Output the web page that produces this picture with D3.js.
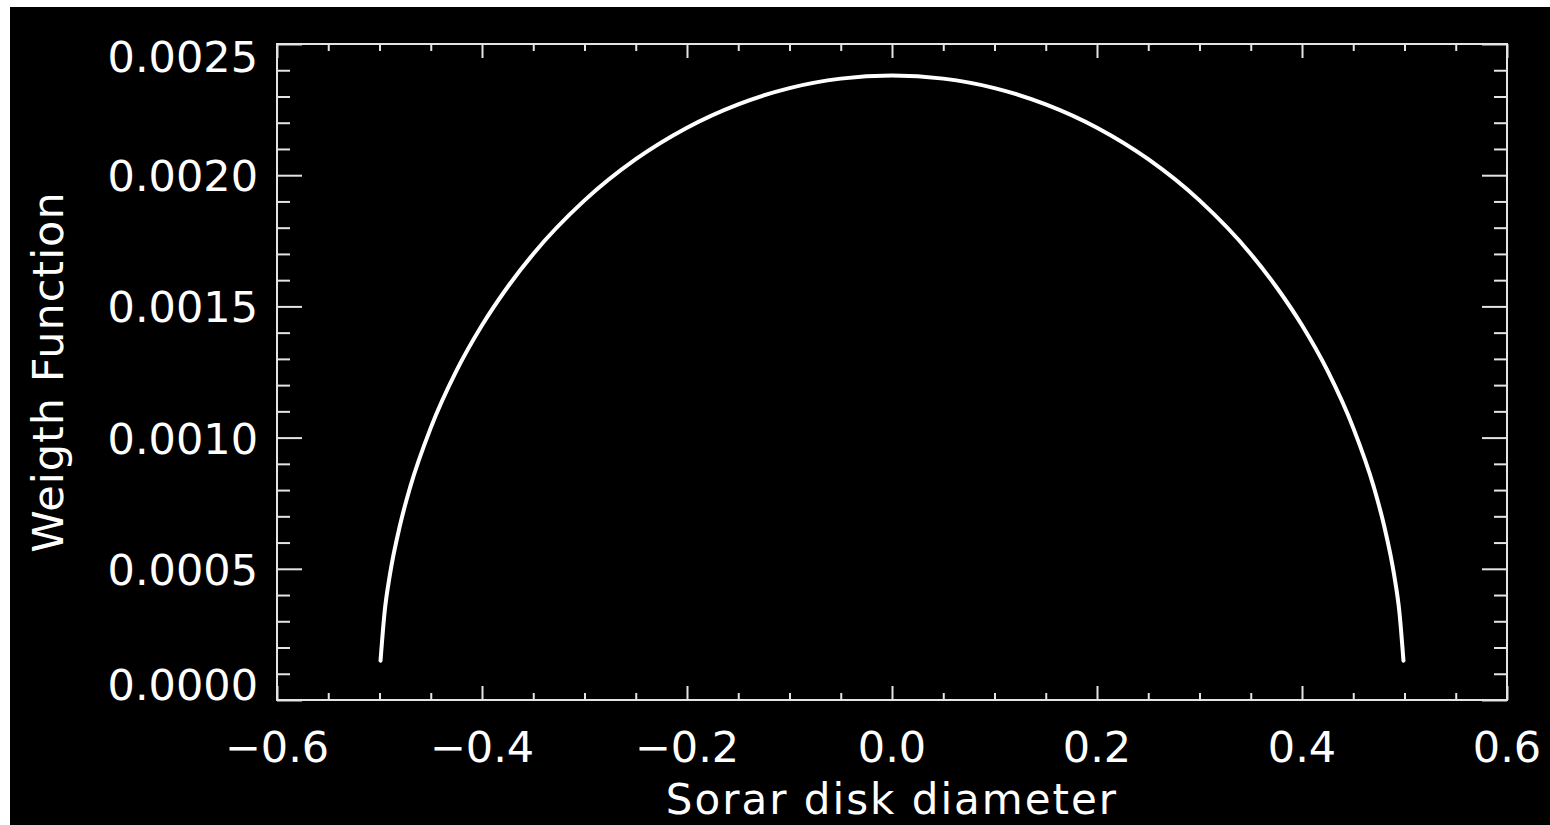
<!DOCTYPE html>
<html>
<head>
<meta charset="utf-8">
<script src="https://cdn.jsdelivr.net/npm/d3@7"></script>
<style>
  html, body { margin: 0; padding: 0; background: #ffffff; }
  svg { display: block; }
</style>
</head>
<body>
<svg id="chart" width="1550" height="825"></svg>
<script>
// ---- data ----
const diameter = [-0.499, -0.495, -0.49, -0.48, -0.47, -0.45, -0.425, -0.4, -0.375, -0.35,
                  -0.3, -0.25, -0.2, -0.15, -0.1, -0.05, 0.0,
                  0.05, 0.1, 0.15, 0.2, 0.25, 0.3, 0.35, 0.375, 0.4, 0.425,
                  0.45, 0.47, 0.48, 0.49, 0.495, 0.499];
const weight = [0.000150, 0.000336, 0.000474, 0.000666, 0.000812, 0.001037, 0.001254, 0.001428, 0.001574, 0.001700,
                0.001904, 0.002061, 0.002181, 0.002270, 0.002332, 0.002368, 0.002380,
                0.002368, 0.002332, 0.002270, 0.002181, 0.002061, 0.001904, 0.001700, 0.001574, 0.001428, 0.001254,
                0.001037, 0.000812, 0.000666, 0.000474, 0.000336, 0.000150];

const xTickValues = [-0.6, -0.4, -0.2, 0.0, 0.2, 0.4, 0.6];
const xTickLabels = ["\u22120.6", "\u22120.4", "\u22120.2", "0.0", "0.2", "0.4", "0.6"];
const yTickValues = [0.0, 0.0005, 0.0010, 0.0015, 0.0020, 0.0025];
const yTickLabels = ["0.0000", "0.0005", "0.0010", "0.0015", "0.0020", "0.0025"];
const xTitle = "Sorar disk diameter";
const yTitle = "Weigth Function";

// ---- layout ----
const svg = d3.select("#chart");
const W = 1550, H = 825;
const frame = { left: 277, right: 1507, top: 44, bottom: 700 };
const fg = "#ffffff";
const axisColor = "#e4e4e4";
const fontFamily = "'DejaVu Sans', sans-serif";
const fontSize = 43;

svg.append("rect").attr("x", 10).attr("y", 7).attr("width", W - 10).attr("height", H - 7).attr("fill", "#000");

const x = d3.scaleLinear().domain([-0.6, 0.6]).range([frame.left, frame.right]);
const y = d3.scaleLinear().domain([0, 0.0025]).range([frame.bottom, frame.top]);

const xMinor = d3.range(-0.6, 0.6001, 0.05).filter(v => !xTickValues.some(t => Math.abs(t - v) < 1e-6));
const yMinor = d3.range(0, 0.0025001, 0.0001).filter(v => !yTickValues.some(t => Math.abs(t - v) < 1e-9));

function styleAxis(g) {
  g.select(".domain").remove();
  g.selectAll("line").attr("stroke", axisColor).attr("stroke-width", 2);
  g.selectAll("text").remove();
}

const xMajorLen = 14, xMinorLen = 7, yMajorLen = 25, yMinorLen = 13;

// bottom
svg.append("g").attr("transform", `translate(0,${frame.bottom})`)
  .call(d3.axisBottom(x).tickValues(xTickValues).tickSize(-xMajorLen)).call(styleAxis);
svg.append("g").attr("transform", `translate(0,${frame.bottom})`)
  .call(d3.axisBottom(x).tickValues(xMinor).tickSize(-xMinorLen)).call(styleAxis);
// top
svg.append("g").attr("transform", `translate(0,${frame.top})`)
  .call(d3.axisTop(x).tickValues(xTickValues).tickSize(-xMajorLen)).call(styleAxis);
svg.append("g").attr("transform", `translate(0,${frame.top})`)
  .call(d3.axisTop(x).tickValues(xMinor).tickSize(-xMinorLen)).call(styleAxis);
// left
svg.append("g").attr("transform", `translate(${frame.left},0)`)
  .call(d3.axisLeft(y).tickValues(yTickValues).tickSize(-yMajorLen)).call(styleAxis);
svg.append("g").attr("transform", `translate(${frame.left},0)`)
  .call(d3.axisLeft(y).tickValues(yMinor).tickSize(-yMinorLen)).call(styleAxis);
// right
svg.append("g").attr("transform", `translate(${frame.right},0)`)
  .call(d3.axisRight(y).tickValues(yTickValues).tickSize(-yMajorLen)).call(styleAxis);
svg.append("g").attr("transform", `translate(${frame.right},0)`)
  .call(d3.axisRight(y).tickValues(yMinor).tickSize(-yMinorLen)).call(styleAxis);

// frame
svg.append("rect")
  .attr("x", frame.left).attr("y", frame.top)
  .attr("width", frame.right - frame.left).attr("height", frame.bottom - frame.top)
  .attr("fill", "none").attr("stroke", axisColor).attr("stroke-width", 2);

// tick labels
svg.append("g").selectAll("text").data(xTickValues).join("text")
  .attr("x", d => x(d)).attr("y", 762)
  .attr("text-anchor", "middle")
  .attr("fill", fg).attr("font-family", fontFamily).attr("font-size", fontSize)
  .text((d, i) => xTickLabels[i]);

svg.append("g").selectAll("text").data(yTickValues).join("text")
  .attr("x", 258)
  .attr("y", (d, i) => {
    let yy = y(d) + 16;
    if (i === 0) yy = frame.bottom;          // bottom label kept inside frame
    if (i === yTickValues.length - 1) yy = frame.top + 28; // top label kept inside frame
    return yy;
  })
  .attr("text-anchor", "end")
  .attr("fill", fg).attr("font-family", fontFamily).attr("font-size", fontSize)
  .text((d, i) => yTickLabels[i]);

// axis titles
svg.append("text")
  .attr("x", (frame.left + frame.right) / 2).attr("y", 814)
  .attr("text-anchor", "middle").attr("letter-spacing", 2)
  .attr("fill", fg).attr("font-family", fontFamily).attr("font-size", 42)
  .text(xTitle);

svg.append("text")
  .attr("transform", `translate(63,${(frame.top + frame.bottom) / 2}) rotate(-90)`)
  .attr("text-anchor", "middle").attr("letter-spacing", 1)
  .attr("fill", fg).attr("font-family", fontFamily).attr("font-size", fontSize)
  .text(yTitle);

// curve
const pts = diameter.map((d, i) => [d, weight[i]]);
svg.append("path")
  .datum(pts)
  .attr("fill", "none")
  .attr("stroke", fg)
  .attr("stroke-width", 4)
  .attr("stroke-linecap", "round")
  .attr("stroke-linejoin", "round")
  .attr("d", d3.line().x(d => x(d[0])).y(d => y(d[1])).curve(d3.curveMonotoneX));
</script>
</body>
</html>
